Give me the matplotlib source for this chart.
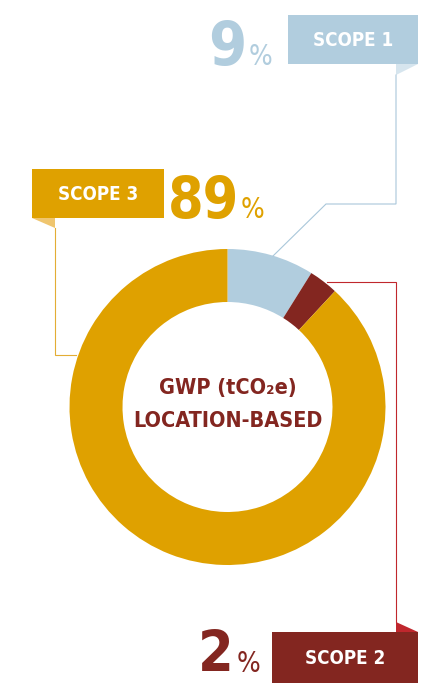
import matplotlib
matplotlib.use("Agg")
import matplotlib.pyplot as plt
from matplotlib.patches import Rectangle, Polygon

# ---- data ----
scopes = ["SCOPE 1", "SCOPE 2", "SCOPE 3"]
shares = [8.9, 3.0, 88.1]          # wedge sizes read from the ring
labels_pct = ["9", "2", "89"]      # printed percentages
center_title = ["GWP (tCO\u2082e)", "LOCATION-BASED"]

colors = ["#B1CDDE", "#832620", "#DFA100"]
fold_colors = ["#D6E5EE", "#C0272D", "#EFC56E"]
line_colors = ["#A9C7DA", "#C0272D", "#E3AD35"]

W, H = 430, 683
fig = plt.figure(figsize=(W / 100, H / 100), dpi=100)
ax = fig.add_axes([0, 0, 1, 1])

def Y(y):
    return H - y

FONT = dict(family="DejaVu Sans", stretch="condensed", weight="bold")

# donut
cx, cy, R, ring = 227.5, 407, 158, 53
ax.pie(shares, colors=colors, startangle=90, counterclock=False,
       radius=R, center=(cx, Y(cy)),
       wedgeprops=dict(width=ring, edgecolor="none", linewidth=0))

ax.set_xlim(0, W)
ax.set_ylim(0, H)
ax.set_aspect("equal")
ax.axis("off")

# center title
ax.text(cx, Y(388), center_title[0], ha="center", va="center",
        color=colors[1], fontsize=15.5, **FONT)
ax.text(cx, Y(421), center_title[1], ha="center", va="center",
        color=colors[1], fontsize=15.5, **FONT)

lw = 0.8
# Scope 1 leader
ax.plot([396, 396, 326, 273], [Y(75), Y(204), Y(204), Y(256)],
        color=line_colors[0], lw=lw, solid_joinstyle="miter")
# Scope 3 leader
ax.plot([55, 55, 76], [Y(228), Y(355), Y(355)],
        color=line_colors[2], lw=lw, solid_joinstyle="miter")
# Scope 2 leader
ax.plot([327, 396, 396], [Y(282), Y(282), Y(622)],
        color=line_colors[1], lw=lw, solid_joinstyle="miter")

# boxes: (x0, y0_top, x1, y1_bottom)
boxes = {
    0: (288, 15, 418, 64),
    2: (32, 169, 164, 218),
    1: (272, 632, 418, 690),
}
for i, (x0, y0, x1, y1) in boxes.items():
    ax.add_patch(Rectangle((x0, Y(y1)), x1 - x0, y1 - y0,
                           facecolor=colors[i], edgecolor="none"))
    ax.text((x0 + x1) / 2, Y((y0 + min(y1, 683)) / 2 + 1), scopes[i],
            ha="center", va="center", color="white", fontsize=13.5, **FONT)

# folds
ax.add_patch(Polygon([(396, Y(64)), (418, Y(64)), (396, Y(75))],
                     facecolor=fold_colors[0], edgecolor="none"))
ax.add_patch(Polygon([(32, Y(218)), (55, Y(218)), (55, Y(228))],
                     facecolor=fold_colors[2], edgecolor="none"))
ax.add_patch(Polygon([(396, Y(622)), (396, Y(632)), (418, Y(632))],
                     facecolor=fold_colors[1], edgecolor="none"))

# big percentages: (left edge of number, baseline y, font size, % left x)
big = {
    0: (208, 65, 44, 249),
    2: (168, 218, 41, 241),
    1: (198, 672, 41, 237),
}
for i, (xl, yb, fs, xp) in big.items():
    ax.text(xl, Y(yb), labels_pct[i], ha="left", va="baseline",
            color=colors[i], fontsize=fs, **FONT)
    ax.text(xp, Y(yb), "%", ha="left", va="baseline",
            color=colors[i], fontsize=20,
            family="DejaVu Sans", stretch="condensed", weight="normal")

fig.savefig("out.png", dpi=100)
